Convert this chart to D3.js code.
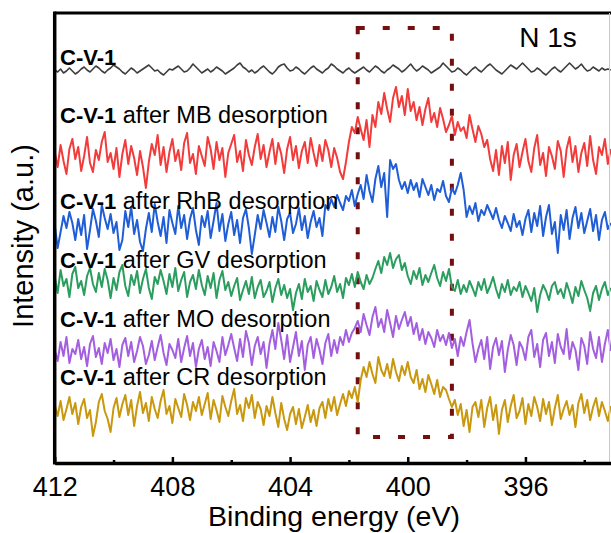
<!DOCTYPE html>
<html>
<head>
<meta charset="utf-8">
<script src="https://cdn.jsdelivr.net/npm/d3@7"></script>
<style>
  body { margin: 0; background: #fff; }
  svg { display: block; font-family: "Liberation Sans", Arial, Helvetica, sans-serif; }
</style>
</head>
<body>
<svg id="chart" width="611" height="533"></svg>
<script>
// N 1s XPS spectra of C-V-1 before and after dye desorption (stacked, offset a.u.)
const energyStart = 412;       // eV, first sample
const energyStep = 0.1;        // eV between samples (decreasing binding energy)

const sampleNames = ["C-V-1", "MB", "RhB", "GV", "MO", "CR"];
const labelSuffix = ["", " after MB desorption", " after RhB desorption", " after GV desorption", " after MO desorption", " after CR desorption"];
const seriesColors = ["#3d3d3d", "#f23c3c", "#1f5ed6", "#2b9e5f", "#a35fe0", "#c9980f"];

// stacking offset of each trace (a.u.)
const offsets = [786, 612, 476, 360, 222, 102];

// intensity above each trace's offset (a.u.)
const cv1 = [0,-4,2,-6,-2,4,-2,-8,-4,2, 6,0,-4,2,8,4,-2,-6,0,4,
  10,6,2,-4,-8,-2,4,0,-6,-2, 2,6,10,4,-2,0,-6,-10,-4,2,
  0,4,8,2,-4,-2,4,12,6,0, -6,-2,2,-4,0,6,2,-2,-8,-4,
  0,4,10,14,6,2,-4,0,-6,-2, 4,8,2,-4,-8,-2,6,10,12,4,
  -2,0,6,2,-4,-8,-2,4,8,2, -2,-6,0,4,12,8,2,-2,-6,0,
  4,-2,-6,-2,2,6,0,-4,2,8, 4,-2,-6,0,4,10,6,2,-4,0,
  6,12,4,-2,2,8,4,0,-6,-2, 2,6,14,8,2,-4,-2,4,0,-6,
  -10,-4,2,6,0,-4,2,8,12,6, 0,-4,-8,-2,4,10,6,2,8,14,
  8,2,-4,-2,4,0,-6,-10,-4,2, 6,0,-4,2,8,14,8,2,6,12,
  4,-2,0,6,2,-2,4,0,2,0];
const afterMB = [10,-20,24,-8,-34,16,36,-4,20,-28, 2,40,-12,-30,14,-6,30,50,-10,8,
  -24,18,-40,6,34,-14,22,-2,-36,12, -20,-62,-10,26,4,44,-16,20,-30,10,
  36,-8,14,-26,28,48,-12,6,-34,22, 2,-18,40,16,-24,30,-6,18,-40,8,
  26,44,-10,12,-28,34,4,-16,20,46, -4,24,-20,10,36,-14,28,6,-32,16,
  40,-6,22,-22,12,30,-12,38,8,-18, 24,-8,34,14,-20,18,-2,-30,-44,-10,
  30,60,48,80,56,34,74,20,84,60, 110,86,128,96,70,118,140,100,122,84,
  136,92,110,74,100,64,96,118,70,88, 60,98,76,50,64,82,44,70,52,60,
  38,84,56,30,62,46,20,34,-4,-28, 14,-36,22,-12,30,-46,4,26,-20,10,
  36,-8,-30,18,44,-16,8,-38,20,2, -24,32,12,-40,16,40,-10,22,-30,8,
  28,-18,42,-6,-34,20,4,36,-14,16];
const afterRhB = [0,-46,-14,18,-6,26,4,-30,12,-20, 20,-48,-10,32,8,-24,40,14,-8,22,
  -16,6,-50,-30,28,-4,36,-18,10,-34, -52,-8,24,-14,42,6,-22,16,-36,30,
  4,-18,38,-6,20,-28,12,34,-10,-40, 18,-4,28,-26,8,44,-12,22,-32,2,
  26,-20,10,-36,14,32,-6,-58,-20,20, -8,30,4,-24,16,-14,36,8,-30,12,
  24,-16,2,34,-10,18,-26,6,28,-4, 14,-22,40,30,52,36,60,44,30,58,
  48,70,38,62,80,52,100,68,46,92, 118,76,104,16,130,112,122,90,72,86,
  64,90,70,84,56,92,76,60,80,50, 72,66,88,58,46,74,62,80,104,70,
  16,38,22,44,8,30,20,40,26,12, 34,10,-6,18,4,-12,22,-4,8,-20,
  12,30,-14,24,-2,38,-22,16,40,-18, 6,-56,20,-10,30,-28,14,36,-6,24,
  -16,8,32,-12,20,-30,10,26,-8,4];
const afterGV = [12,-20,26,-6,8,-28,18,32,-10,4, -24,14,30,-2,-18,20,-8,28,6,-30,
  10,-14,22,36,-6,-26,16,-4,24,-20, 8,28,-10,-32,12,-2,26,4,-22,18,
  -8,30,-16,6,22,-28,2,16,-12,26, -4,-24,14,-10,20,-30,6,24,-14,2,
  -26,-6,10,-34,-14,4,-22,12,-30,-8, 6,-28,-16,2,-38,-10,8,-24,-4,-30,
  -12,-54,-20,-2,-32,8,-18,-6,-36,4, -14,-28,6,-22,-8,14,-18,-2,-30,10,
  -4,18,-8,22,2,-12,16,-2,10,28, 44,20,52,36,60,30,48,56,26,40,
  14,-2,24,8,30,-4,16,2,20,36, 10,-6,22,4,28,-8,-16,6,-22,-4,
  -18,4,-10,-26,2,-14,8,-20,-6,12, -12,-30,-2,-18,6,-24,-8,-16,2,-28,
  -6,-20,-36,-10,-58,-24,-4,-16,-34,-6, 2,-22,-12,-30,0,-18,-40,-8,-26,4,
  -14,-30,-56,-20,-6,-34,-12,2,-24,-10];
const afterMO = [4,-18,20,-8,30,-22,6,-4,24,-14, 10,-28,16,32,-10,8,-24,18,-2,26,
  -16,6,-30,14,28,-8,20,-20,2,30, 12,-24,-6,22,-16,10,34,-2,-26,16,
  4,-12,26,-20,8,32,-8,18,-30,6, 24,-14,10,-28,20,2,-20,30,-6,14,
  36,8,-18,26,-10,42,18,-26,12,30, -4,20,-32,16,44,6,58,24,-14,34,
  -20,10,40,-8,22,-36,14,30,-12,26, 4,-24,18,36,-8,24,-2,30,14,44,
  20,38,48,62,40,76,54,34,70,90, 50,66,40,84,58,30,72,46,64,80,
  52,70,36,58,24,46,16,40,28,10, 44,22,34,14,38,8,26,-8,30,12,
  40,64,18,-20,6,24,-14,30,-34,10, 28,-6,22,-40,4,34,14,-26,20,8,
  -16,30,44,-10,16,-30,24,38,-8,20, -22,36,10,-4,46,-14,20,4,-36,28,
  12,-24,40,6,-12,30,-20,16,44,2];
const afterCR = [14,-8,22,-16,6,30,-4,18,-24,10, 26,-12,4,-48,-20,20,36,2,-14,-40,
  8,28,-10,16,34,-6,24,-28,12,40, -2,18,-18,30,6,-12,22,44,-4,12,
  -22,26,8,-10,36,14,-16,20,2,30, -6,16,38,-14,24,4,-20,32,10,-8,
  22,46,-4,14,-18,28,8,34,-12,20, 6,-26,12,-8,30,-2,-30,18,-14,-36,
  -4,10,-24,6,-32,-10,14,-20,4,-28, 8,20,-12,26,2,30,-6,16,36,12,
  42,28,50,20,64,90,70,100,76,58, 110,84,72,96,68,106,80,62,92,74,
  100,70,58,84,46,66,40,74,56,36, 64,30,50,44,26,10,24,-6,16,-28,
  4,-40,10,20,-10,24,-30,8,30,-16, 14,-44,4,24,-20,12,34,-12,2,28,
  -24,16,-8,30,10,-18,26,-4,20,-26, 8,34,-14,6,22,-6,14,-30,18,36,
  -2,24,-16,10,28,-8,20,2,-18,12];
const seriesValues = [cv1, afterMB, afterRhB, afterGV, afterMO, afterCR];

// axis ticks
const majorTicks = [412, 408, 404, 400, 396];
const minorTicks = [410, 406, 402, 398, 394];

// highlighted N region (eV) and its vertical extent (a.u.)
const boxEnergy = [401.7, 398.5];
const boxIntensity = [52, 870];

const svg = d3.select("#chart");
const plotLeft = 54.7, plotRight = 613.7, plotTop = 13, plotBottom = 463;

const x = d3.scaleLinear().domain([412, 393]).range([plotLeft, plotRight]);
const y = d3.scaleLinear().domain([0, 900]).range([plotBottom, plotTop]);

svg.append("defs").append("clipPath").attr("id", "plotClip")
  .append("rect").attr("x", plotLeft).attr("y", plotTop)
  .attr("width", 611 - plotLeft).attr("height", plotBottom - plotTop);

// dashed highlight box
svg.append("rect")
  .attr("x", x(boxEnergy[0])).attr("y", y(boxIntensity[1]))
  .attr("width", x(boxEnergy[1]) - x(boxEnergy[0]))
  .attr("height", y(boxIntensity[0]) - y(boxIntensity[1]))
  .attr("fill", "none").attr("stroke", "#740f10").attr("stroke-width", 4)
  .attr("stroke-dasharray", "7,18");

// spectra
const line = d3.line()
  .x((d, i) => x(energyStart - i * energyStep))
  .y(d => y(d));

const traces = svg.append("g").attr("clip-path", "url(#plotClip)");
seriesValues.forEach((vals, k) => {
  traces.append("path")
    .datum(vals.map(v => v + offsets[k]))
    .attr("fill", "none")
    .attr("stroke", seriesColors[k])
    .attr("stroke-width", k === 0 ? 1.6 : 2)
    .attr("stroke-linejoin", "round")
    .attr("d", line);
});

// frame: top border and faint right edge
svg.append("line").attr("x1", plotLeft).attr("x2", 611).attr("y1", plotTop).attr("y2", plotTop)
  .attr("stroke", "#000").attr("stroke-width", 3);
svg.append("line").attr("x1", 609.5).attr("x2", 609.5).attr("y1", plotTop).attr("y2", plotBottom)
  .attr("stroke", "#c8c8c8").attr("stroke-width", 1);

// left axis (no ticks)
svg.append("line").attr("x1", plotLeft).attr("x2", plotLeft)
  .attr("y1", plotTop - 1.5).attr("y2", plotBottom + 1.5)
  .attr("stroke", "#000").attr("stroke-width", 3.5);

// bottom axis with inward ticks
const xAxis = d3.axisBottom(x).tickValues(majorTicks).tickFormat(d3.format("d"))
  .tickSizeInner(-6).tickSizeOuter(0).tickPadding(13.5);
const gx = svg.append("g").attr("transform", `translate(0,${plotBottom})`).call(xAxis);
gx.select(".domain").attr("stroke", "#000").attr("stroke-width", 3.5);
gx.selectAll(".tick line").attr("stroke", "#000").attr("stroke-width", 2.5);
gx.selectAll(".tick text").attr("fill", "#000").style("font-size", "27px")
  .style("font-family", "\"Liberation Sans\", Arial, sans-serif");

const xMinor = d3.axisBottom(x).tickValues(minorTicks).tickFormat("")
  .tickSizeInner(-3).tickSizeOuter(0);
const gm = svg.append("g").attr("transform", `translate(0,${plotBottom})`).call(xMinor);
gm.select(".domain").remove();
gm.selectAll(".tick line").attr("stroke", "#000").attr("stroke-width", 2.5);

// axis titles
svg.append("text").attr("x", 334).attr("y", 526).attr("text-anchor", "middle")
  .style("font-size", "28.5px").attr("fill", "#000").text("Binding energy (eV)");
svg.append("text").attr("transform", "translate(33,236) rotate(-90)").attr("text-anchor", "middle")
  .style("font-size", "29px").attr("fill", "#000").text("Intensity (a.u.)");

// panel label
svg.append("text").attr("x", 548).attr("y", 47).attr("text-anchor", "middle")
  .style("font-size", "28px").attr("fill", "#000").text("N 1s");

// trace labels
const labelBaselines = [65, 123, 209, 268, 327, 385];
sampleNames.forEach((name, k) => {
  const t = svg.append("text").attr("x", 60).attr("y", labelBaselines[k]).attr("fill", "#000");
  t.append("tspan").attr("font-weight", "bold").style("font-size", "22px").text("C-V-1");
  if (labelSuffix[k]) t.append("tspan").style("font-size", "23.5px").text(labelSuffix[k]);
});
</script>
</body>
</html>
